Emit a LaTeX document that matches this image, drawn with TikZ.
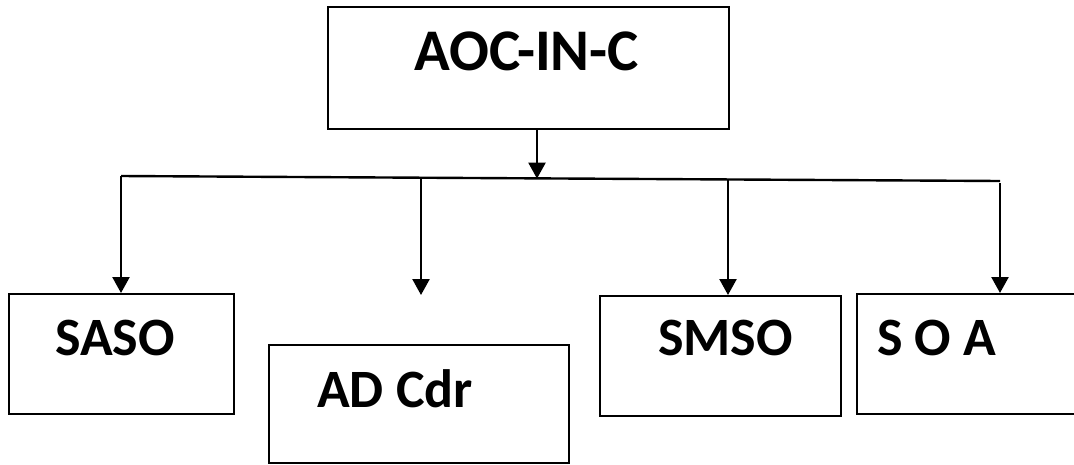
\documentclass[tikz,border=0pt]{standalone}
\usepackage{fontspec}
\setmainfont{Carlito}
\usetikzlibrary{arrows.meta}
\begin{document}
\begin{tikzpicture}[x=1pt,y=-1pt,
  box/.style={draw=black,line width=2.2pt,inner sep=0pt,anchor=north west},
  title/.style={font=\bfseries\fontsize{59}{62}\selectfont,inner sep=0pt,anchor=base west},
  lbl/.style={font=\bfseries\fontsize{54}{58}\selectfont,inner sep=0pt,anchor=base west},
  link/.style={line width=2.4pt},
  down/.style={line width=2.4pt,-{Triangle[width=17pt,length=16pt]}}]
\useasboundingbox (0,0) rectangle (1074,464);
\clip (0,0) rectangle (1074,464);
% boxes
\node[box,minimum width=401pt,minimum height=122pt] (top) at (327,6) {};
\node[box,minimum width=225pt,minimum height=120pt] (saso) at (8,293) {};
\node[box,minimum width=300pt,minimum height=118pt] (adcdr) at (268,344) {};
\node[box,minimum width=241pt,minimum height=120pt] (smso) at (599,295) {};
\node[box,minimum width=240pt,minimum height=120pt] (soa) at (856,293) {};
% labels
\node[title] (ttop) at (414,70) {AOC-IN-C};
\node[lbl] (tsaso) at (55,355) {SASO};
\node[lbl] (tadcdr) at (317,407) {AD Cdr};
\node[lbl] (tsmso) at (658,355) {SMSO};
\node[lbl] (tsoa) at (877,355) {S O A};
% distribution bus
\coordinate (busL) at (121,176);
\coordinate (busR) at (1000,181);
\draw[link] (busL) -- (busR);
\coordinate (hub) at (537,178.6);
\draw[down] (top.south -| hub) -- (hub);
% branches
\coordinate (b2) at (421,177.7);
\coordinate (b2tip) at (421,295);
\coordinate (b3) at (728,179.5);
\coordinate (b4) at (1000,183);
\draw[down] (busL) -- (saso.north -| busL);
\draw[down] (b2) -- (b2tip);
\draw[down] (b3) -- (smso.north -| b3);
\draw[down] (b4) -- (soa.north -| b4);
\end{tikzpicture}
\end{document}
